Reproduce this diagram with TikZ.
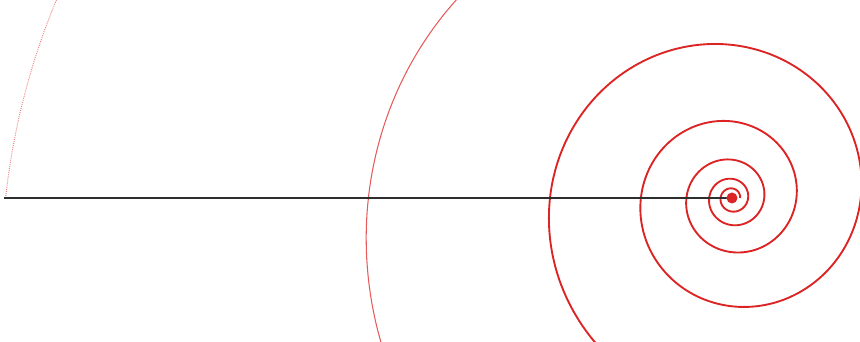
\documentclass[tikz,border=0pt]{standalone}
\usepackage{xcolor}
\definecolor{ink}{HTML}{2E2E2E}
\definecolor{cspiral}{HTML}{DC2424}

\begin{document}
\begin{tikzpicture}[x=0.03cm, y=0.03cm,
      declare function={spr(\t)=182*exp(0.0019254*(\t-180));},
      spiral/.style={draw=cspiral, line width=1.6pt, line join=round},
      faint/.style={draw=cspiral!75, line width=0.9pt},
      fainter/.style={draw=cspiral!60, line width=0.8pt, densely dotted},
      axis/.style={draw=ink, line width=1.2pt}]
    \useasboundingbox (-732,-144) rectangle (128,198);
    \coordinate (pole) at (0,0);
    \coordinate (tail) at (-728,0);

    % log spiral, radius doubles every turn
    \draw[spiral] plot[domain=-1440:450, samples=420, smooth] ({spr(\x)*cos(\x)}, {spr(\x)*sin(\x)});
    \draw[faint] plot[domain=450:720, samples=80, smooth] ({spr(\x)*cos(\x)}, {spr(\x)*sin(\x)});
    \draw[fainter] plot[domain=720:900, samples=80, smooth] ({spr(\x)*cos(\x)}, {spr(\x)*sin(\x)});

    \draw[axis] (tail) -- (pole);
    \fill[cspiral] (pole) circle (5.5);
  \end{tikzpicture}
\end{document}
